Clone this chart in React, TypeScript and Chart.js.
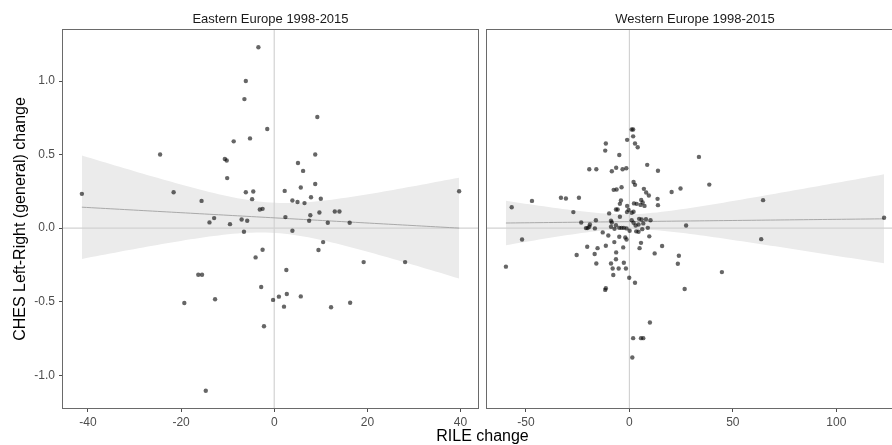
import React, { useEffect, useRef } from "react";
import { Chart, registerables } from "chart.js";

Chart.register(...registerables);

// ---------------- data ----------------
const PANEL_TITLES = ["Eastern Europe 1998-2015", "Western Europe 1998-2015"];
const X_TITLE = "RILE change";
const Y_TITLE = "CHES Left-Right (general) change";

const EAST_X_TICKS = [-40, -20, 0, 20, 40];
const WEST_X_TICKS = [-50, 0, 50, 100];
const Y_TICKS = [-1.0, -0.5, 0.0, 0.5, 1.0];

// [RILE change, CHES change]
const EAST_POINTS: [number, number][] = [
  [-41.3, 0.233], [-24.5, 0.5], [-21.6, 0.244], [-15.6, 0.185], [-13.9, 0.039],
  [-12.9, 0.068], [-9.5, 0.027], [-10.6, 0.47], [-10.2, 0.46], [-8.7, 0.59],
  [-10.1, 0.34], [-6.1, 1.0], [-6.4, 0.877], [-3.4, 1.23], [-5.2, 0.61],
  [-1.5, 0.674], [-6.1, 0.244], [-4.5, 0.249], [-4.75, 0.197], [-3.1, 0.127],
  [-2.5, 0.131], [-7.0, 0.059], [-5.8, 0.05], [2.25, 0.253], [2.4, 0.075],
  [3.9, 0.188], [5.0, 0.178], [5.1, 0.443], [6.2, 0.389], [5.7, 0.276],
  [9.25, 0.755], [8.8, 0.5], [8.8, 0.3], [6.5, 0.17], [7.9, 0.21],
  [10.0, 0.2], [7.75, 0.088], [9.7, 0.106], [13.0, 0.113], [14.0, 0.113],
  [7.5, 0.05], [11.5, 0.036], [16.2, 0.036], [3.9, -0.018], [39.7, 0.251],
  [-6.5, -0.025], [10.5, -0.095], [9.5, -0.149], [19.2, -0.231], [28.1, -0.231],
  [-2.5, -0.147], [-4.0, -0.199], [-16.3, -0.317], [-15.5, -0.317], [2.6, -0.285],
  [-2.8, -0.4], [-19.3, -0.509], [-12.7, -0.484], [-0.25, -0.488], [1.0, -0.466],
  [2.7, -0.448], [2.1, -0.534], [5.7, -0.464], [12.2, -0.538], [16.3, -0.507],
  [-2.2, -0.667], [-14.7, -1.106],
];

const WEST_POINTS: [number, number][] = [
  [1.1, 0.67], [1.8, 0.67], [1.8, 0.624], [-1.1, 0.6], [2.7, 0.575],
  [4.0, 0.55], [-11.4, 0.575], [-11.7, 0.527], [-4.9, 0.497], [8.6, 0.43],
  [33.6, 0.484], [-19.4, 0.4], [-16.0, 0.4], [-8.5, 0.387], [-6.4, 0.41],
  [-3.3, 0.4], [-1.5, 0.407], [13.8, 0.39], [2.0, 0.314], [2.7, 0.294],
  [-7.6, 0.26], [-6.2, 0.263], [-3.8, 0.278], [7.0, 0.267], [8.1, 0.242],
  [9.4, 0.222], [20.4, 0.246], [24.7, 0.269], [-33.1, 0.206], [-30.7, 0.201],
  [-24.4, 0.206], [-47.1, 0.185], [-56.9, 0.142], [13.6, 0.199], [13.8, 0.156],
  [5.7, 0.192], [-4.1, 0.188], [-4.6, 0.165], [2.2, 0.168], [3.5, 0.165],
  [6.4, 0.174], [7.3, 0.151], [-1.1, 0.151], [5.4, 0.158], [-6.5, 0.127],
  [-5.7, 0.127], [-0.4, 0.124], [1.1, 0.104], [2.0, 0.111], [-1.2, 0.109],
  [-9.8, 0.1], [-27.1, 0.109], [-4.6, 0.077], [-16.2, 0.054], [-23.3, 0.038],
  [-19.1, 0.025], [-19.4, 0.009], [-21.0, 0.0], [-20.2, 0.0], [-16.7, -0.002],
  [-8.9, 0.05], [-8.5, 0.038], [1.1, 0.054], [2.0, 0.036], [4.7, 0.063],
  [5.9, 0.059], [8.0, 0.061], [10.2, 0.054], [6.7, 0.032], [3.0, 0.018],
  [4.4, 0.025], [-6.5, 0.02], [-8.9, 0.009], [-7.2, -0.005], [-4.9, 0.002],
  [-3.8, 0.002], [-2.7, 0.002], [-1.4, -0.002], [0.1, -0.018], [3.3, -0.022],
  [6.2, -0.007], [8.9, 0.002], [27.4, 0.018], [-12.9, -0.029], [-10.2, -0.05],
  [-4.9, -0.059], [-2.0, -0.063], [-1.4, -0.077], [4.4, -0.025], [9.6, -0.056],
  [-51.9, -0.077], [-7.3, -0.095], [5.6, -0.1], [-11.4, -0.12], [-20.4, -0.127],
  [-15.4, -0.136], [-3.0, -0.131], [4.9, -0.136], [15.8, -0.122], [-6.4, -0.165],
  [-16.8, -0.176], [-25.5, -0.183], [12.2, -0.172], [23.9, -0.188], [-6.5, -0.212],
  [-2.7, -0.235], [-16.0, -0.24], [-8.9, -0.24], [23.4, -0.242], [-8.1, -0.274],
  [-5.2, -0.274], [-1.7, -0.274], [-7.8, -0.319], [-0.1, -0.337], [-59.7, -0.262],
  [2.7, -0.371], [-11.4, -0.409], [-11.7, -0.42], [26.7, -0.414], [9.9, -0.642],
  [1.8, -0.748], [5.6, -0.748], [6.7, -0.748], [1.4, -0.88], [38.6, 0.296],
  [64.6, 0.19], [63.7, -0.075], [44.7, -0.299], [123.1, 0.07],
];

// ---------------- helpers ----------------
const FONT = "'Liberation Sans', Arial, Helvetica, sans-serif";

function expand(vals: number[], mult = 0.05): [number, number] {
  const mn = Math.min(...vals);
  const mx = Math.max(...vals);
  const r = mx - mn;
  return [mn - r * mult, mx + r * mult];
}

function tQuantile975(df: number): number {
  const z = 1.959963985;
  const z3 = z ** 3, z5 = z ** 5, z7 = z ** 7;
  return (
    z +
    (z3 + z) / (4 * df) +
    (5 * z5 + 16 * z3 + 3 * z) / (96 * df * df) +
    (3 * z7 + 19 * z5 + 17 * z3 - 15 * z) / (384 * df ** 3)
  );
}

// linear model fit with 95% confidence band (as geom_smooth(method = "lm"))
function lmBand(points: [number, number][], steps = 80) {
  const n = points.length;
  const xs = points.map((p) => p[0]);
  const ys = points.map((p) => p[1]);
  const mx = xs.reduce((a, b) => a + b, 0) / n;
  const my = ys.reduce((a, b) => a + b, 0) / n;
  let sxx = 0, sxy = 0;
  for (let i = 0; i < n; i++) {
    sxx += (xs[i] - mx) ** 2;
    sxy += (xs[i] - mx) * (ys[i] - my);
  }
  const b = sxy / sxx;
  const a = my - b * mx;
  let sse = 0;
  for (let i = 0; i < n; i++) sse += (ys[i] - a - b * xs[i]) ** 2;
  const s = Math.sqrt(sse / (n - 2));
  const t = tQuantile975(n - 2);
  const x0 = Math.min(...xs);
  const x1 = Math.max(...xs);
  const line: { x: number; y: number }[] = [];
  const upper: { x: number; y: number }[] = [];
  const lower: { x: number; y: number }[] = [];
  for (let i = 0; i <= steps; i++) {
    const x = x0 + ((x1 - x0) * i) / steps;
    const fit = a + b * x;
    const se = s * Math.sqrt(1 / n + (x - mx) ** 2 / sxx);
    line.push({ x, y: fit });
    upper.push({ x, y: fit + t * se });
    lower.push({ x, y: fit - t * se });
  }
  return { line, upper, lower };
}

const Y_RANGE = expand([...EAST_POINTS, ...WEST_POINTS].map((p) => p[1]));

type PanelSpec = {
  points: [number, number][];
  xTicks: number[];
  title: string;
  isLeft: boolean;
  padLeft: number;
  padRight: number;
};

function makeConfig(spec: PanelSpec): any {
  const [xMin, xMax] = expand(spec.points.map((p) => p[0]));
  const fit = lmBand(spec.points);
  const tickColor = "#4d4d4d";

  const decor = {
    id: "decor",
    afterDraw(chart: any) {
      const { ctx, chartArea } = chart;
      const { left, right, top, bottom } = chartArea;
      ctx.save();
      // panel border
      ctx.strokeStyle = "#6a6a6a";
      ctx.lineWidth = 1;
      ctx.strokeRect(Math.round(left) - 0.5, Math.round(top) - 0.5, Math.round(right - left) + 1, Math.round(bottom - top) + 1);
      // facet title
      ctx.fillStyle = "#1a1a1a";
      ctx.font = `13px ${FONT}`;
      ctx.textAlign = "center";
      ctx.textBaseline = "alphabetic";
      ctx.fillText(spec.title, (left + right) / 2, 22.6);
      if (spec.isLeft) {
        ctx.fillStyle = "#000000";
        ctx.font = `16px ${FONT}`;
        ctx.fillText(X_TITLE, 482.5, 440.5);
        ctx.translate(24.5, (top + bottom) / 2);
        ctx.rotate(-Math.PI / 2);
        ctx.fillText(Y_TITLE, 0, 0);
      }
      ctx.restore();
    },
  };

  const lineDs = (data: any[], color: string, width: number, extra: any = {}) => ({
    data,
    showLine: true,
    borderColor: color,
    borderWidth: width,
    pointRadius: 0,
    tension: 0,
    fill: false,
    ...extra,
  });

  return {
    type: "scatter",
    data: {
      datasets: [
        {
          label: "points",
          data: spec.points.map(([x, y]) => ({ x, y })),
          showLine: false,
          pointRadius: 2.2,
          pointBackgroundColor: "rgba(0,0,0,0.6)",
          pointBorderWidth: 0,
          pointBorderColor: "rgba(0,0,0,0)",
        },
        lineDs(fit.line, "#a9a9a9", 1),
        lineDs([{ x: 0, y: Y_RANGE[0] }, { x: 0, y: Y_RANGE[1] }], "#d2d2d2", 1.2),
        lineDs([{ x: xMin, y: 0 }, { x: xMax, y: 0 }], "#d2d2d2", 1.2),
        lineDs(fit.upper, "rgba(0,0,0,0)", 1, { fill: "+1", backgroundColor: "#ebebeb" }),
        lineDs(fit.lower, "rgba(0,0,0,0)", 1),
      ],
    },
    options: {
      animation: false,
      responsive: false,
      events: [],
      layout: { padding: { left: spec.padLeft, right: spec.padRight, top: 30, bottom: 0 } },
      plugins: { legend: { display: false }, tooltip: { enabled: false } },
      scales: {
        x: {
          type: "linear",
          min: xMin,
          max: xMax,
          afterBuildTicks: (s: any) => {
            s.ticks = spec.xTicks.map((v) => ({ value: v }));
          },
          afterFit: (s: any) => {
            s.height = 37;
          },
          border: { display: false },
          grid: { drawOnChartArea: false, drawTicks: true, tickLength: 4, color: tickColor, lineWidth: 1 },
          ticks: {
            autoSkip: false,
            maxRotation: 0,
            color: tickColor,
            padding: 3,
            font: { family: FONT, size: 12 },
            callback: (v: any) => String(v),
          },
        },
        y: {
          type: "linear",
          display: spec.isLeft,
          min: Y_RANGE[0],
          max: Y_RANGE[1],
          afterBuildTicks: (s: any) => {
            s.ticks = Y_TICKS.map((v) => ({ value: v }));
          },
          afterFit: (s: any) => {
            s.width = spec.isLeft ? 63 : 0;
          },
          border: { display: false },
          grid: { drawOnChartArea: false, drawTicks: true, tickLength: 4, color: tickColor, lineWidth: 1 },
          ticks: {
            color: tickColor,
            padding: 4,
            font: { family: FONT, size: 12 },
            callback: (v: any) => Number(v).toFixed(1),
          },
        },
      },
    },
    plugins: [decor],
  };
}

export default function App() {
  const leftRef = useRef<HTMLCanvasElement>(null);
  const rightRef = useRef<HTMLCanvasElement>(null);

  useEffect(() => {
    const left = new Chart(
      leftRef.current as HTMLCanvasElement,
      makeConfig({ points: EAST_POINTS, xTicks: EAST_X_TICKS, title: PANEL_TITLES[0], isLeft: true, padLeft: 0, padRight: 414 })
    );
    const right = new Chart(
      rightRef.current as HTMLCanvasElement,
      makeConfig({ points: WEST_POINTS, xTicks: WEST_X_TICKS, title: PANEL_TITLES[1], isLeft: false, padLeft: 7, padRight: 7 })
    );
    return () => {
      left.destroy();
      right.destroy();
    };
  }, []);

  return (
    <div style={{ position: "fixed", left: 0, top: 0, width: 892, height: 445, overflow: "hidden", background: "#ffffff" }}>
      <canvas ref={leftRef} width={892} height={445} style={{ position: "absolute", left: 0, top: 0, width: 892, height: 445 }} />
      <canvas ref={rightRef} width={430} height={445} style={{ position: "absolute", left: 480, top: 0, width: 430, height: 445 }} />
    </div>
  );
}
